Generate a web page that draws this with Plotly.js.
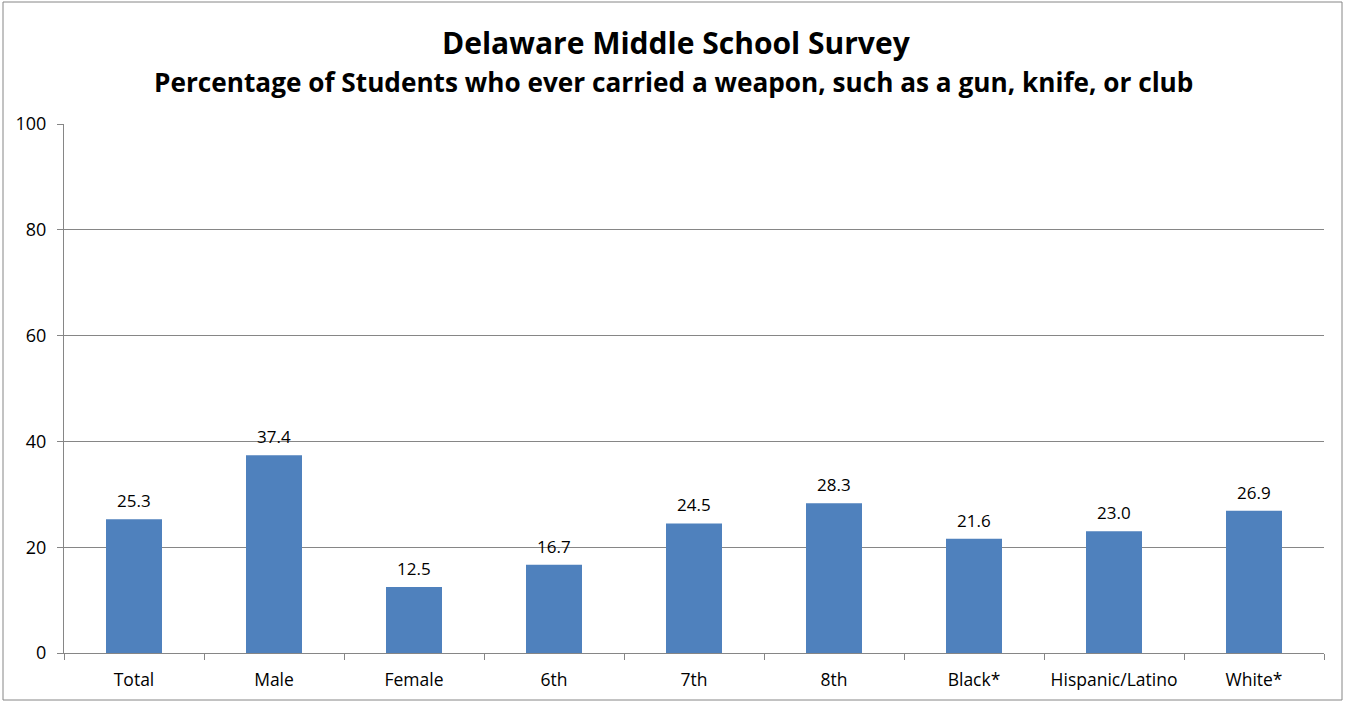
<!DOCTYPE html>
<html>
<head>
<meta charset="utf-8">
<script src="https://cdn.plot.ly/plotly-3.0.1.min.js"></script>
<style>
html,body{margin:0;padding:0;background:#fff;}
#chart{width:1345px;height:703px;}
</style>
</head>
<body>
<div id="chart"></div>
<script>
const categories = ["Total","Male","Female","6th","7th","8th","Black*","Hispanic/Latino","White*"];
const values = [25.3, 37.4, 12.5, 16.7, 24.5, 28.3, 21.6, 23.0, 26.9];
const yTicks = [0, 20, 40, 60, 80, 100];
const titleMain = "Delaware Middle School Survey";
const titleSub = "Percentage of Students who ever carried a weapon, such as a gun, knife, or club";

const FONT = "'Open Sans', sans-serif";
const W = 1345, H = 703;
const L = 64, R = 21, T = 124, B = 50;
const pw = W - L - R, ph = H - T - B;
const px = v => (v - L) / pw;
const py = v => (H - B - v) / ph;

const trace = {
  type: "bar",
  x: categories,
  y: values,
  marker: {color: "#4F81BD", line: {width: 0}},
  hoverinfo: "x+y"
};

const labelAnnots = categories.map((c, i) => ({
  x: c, y: values[i], xref: "x", yref: "y",
  text: values[i].toFixed(1), showarrow: false,
  yanchor: "bottom", yshift: 5,
  font: {family: FONT, size: 17, color: "#000"}
}));

const layout = {
  width: W, height: H,
  margin: {l: L, r: R, t: T, b: B},
  paper_bgcolor: "#fff", plot_bgcolor: "#fff",
  showlegend: false,
  bargap: 0.6,
  font: {family: FONT, color: "#000"},
  xaxis: {
    type: "category",
    showline: true, linecolor: "#868686", linewidth: 1,
    ticks: "outside", tickson: "boundaries", ticklen: 6, tickcolor: "#868686",
    ticklabelstandoff: 11,
    tickfont: {family: FONT, size: 17.5, color: "#000"},
    showgrid: false, zeroline: false, fixedrange: true
  },
  yaxis: {
    range: [0, 100],
    tickvals: yTicks,
    ticktext: yTicks.map(String),
    showline: true, linecolor: "#868686", linewidth: 1,
    ticks: "outside", ticklen: 6, tickcolor: "#868686",
    ticklabelstandoff: 7,
    tickfont: {family: FONT, size: 18, color: "#000"},
    showgrid: true, gridcolor: "#868686", gridwidth: 1,
    zeroline: false, fixedrange: true
  },
  annotations: [
    {text: "<b>" + titleMain + "</b>", xref: "paper", yref: "paper",
     x: px(676), y: py(42), xanchor: "center", yanchor: "middle", showarrow: false,
     font: {family: FONT, size: 30, color: "#000"}},
    {text: "<b>" + titleSub + "</b>", xref: "paper", yref: "paper",
     x: px(673), y: py(82), xanchor: "center", yanchor: "middle", showarrow: false,
     font: {family: FONT, size: 26.2, color: "#000"}}
  ].concat(labelAnnots),
  shapes: [
    {type: "rect", xref: "paper", yref: "paper",
     x0: px(3), x1: px(1342), y0: py(700), y1: py(2),
     line: {color: "#868686", width: 1}, fillcolor: "rgba(0,0,0,0)", layer: "below"}
  ]
};

Plotly.newPlot("chart", [trace], layout, {displayModeBar: false, staticPlot: true});
</script>
</body>
</html>
